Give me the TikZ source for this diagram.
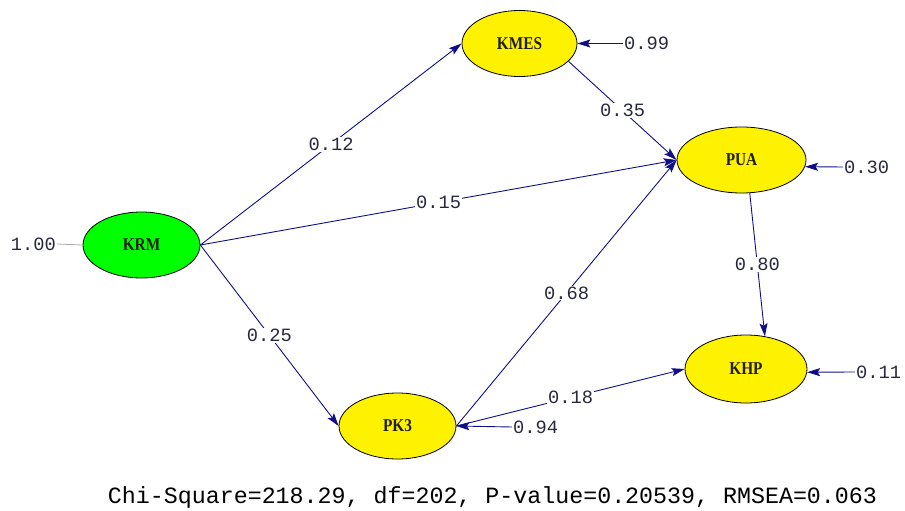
\documentclass[tikz,border=0pt]{standalone}
\usepackage{fontspec}
\usepackage{graphicx}
\setmainfont{Liberation Serif}
\setmonofont{Liberation Mono}
\usetikzlibrary{shapes.geometric,arrows.meta}
\definecolor{navy}{RGB}{15,15,135}
\definecolor{lblgray}{RGB}{40,40,60}
\newcommand{\lvname}[1]{\scalebox{0.85}[1]{#1}}
\tikzset{
  lat/.style={ellipse, draw=black, line width=0.8pt, inner sep=0pt,
    font=\bfseries\fontsize{18}{20}\selectfont, text={rgb,255:red,30;green,30;blue,20}},
  yel/.style={lat, fill=yellow},
  grn/.style={lat, fill=green},
  path/.style={draw=navy, line width=0.9pt, -{Stealth[length=13pt,width=8pt,inset=2.5pt]}},
  lbl/.style={fill=white, inner sep=1pt, text=lblgray, font=\ttfamily\fontsize{18.75}{20}\selectfont},
  errlbl/.style={inner sep=1pt, anchor=west, text=lblgray, font=\ttfamily\fontsize{18.75}{20}\selectfont}
}
\begin{document}
\begin{tikzpicture}[x=1pt,y=-1pt]
\useasboundingbox (0,0) rectangle (905,511);
% latent variables
\node[grn, minimum width=117pt, minimum height=66pt] (KRM) at (141.5,245) {\lvname{KRM}};
\node[yel, minimum width=115pt, minimum height=66pt] (KMES) at (519.5,43.5) {\lvname{KMES}};
\node[yel, minimum width=129pt, minimum height=66pt] (PUA) at (741.5,160) {\lvname{PUA}};
\node[yel, minimum width=117pt, minimum height=66pt] (PK3) at (397.5,426) {\lvname{PK3}};
\node[yel, minimum width=122pt, minimum height=68pt] (KHP) at (746,369) {\lvname{KHP}};
% structural paths
\draw[path] (KRM.east) -- node[lbl] (l1) {0.12} (KMES.west);
\draw[path] (KRM.east) -- node[lbl] (l2) {0.15} (PUA.west);
\draw[path] (KRM.east) -- node[lbl] (l3) {0.25} (PK3.west);
\draw[path] (KMES.-20) -- node[lbl] (l4) {0.35} (PUA.west);
\draw[path] (PK3.east) -- node[lbl] (l5) {0.68} (PUA.west);
\draw[path] (PUA.-76) -- node[lbl] (l6) {0.80} (KHP.60);
\draw[path] (PK3.east) -- node[lbl] (l7) {0.18} (KHP.west);
% error terms
\coordinate (eKMES) at (623,43.5);
\coordinate (ePUA) at (843,167);
\coordinate (ePK3) at (512,427);
\coordinate (eKHP) at (855,372);
\coordinate (eKRM) at (57,244);
\draw[path] (eKMES) -- (KMES.east);
\draw[path] (ePUA) -- (PUA.-6);
\draw[path] (ePK3) -- (PK3.east);
\draw[path] (eKHP) -- (KHP.-3);
\draw[draw={rgb,255:red,170;green,170;blue,170}, line width=0.8pt] (eKRM) -- (KRM.west);
\node[errlbl] (v1) at (eKMES) {0.99};
\node[errlbl] (v2) at (ePUA) {0.30};
\node[errlbl] (v3) at (ePK3) {0.94};
\node[errlbl] (v4) at (eKHP) {0.11};
\node[errlbl, anchor=east] (v5) at (eKRM) {1.00};
% fit statistics
\node[font=\ttfamily\fontsize{23.3}{25}\selectfont, text=black, inner sep=0pt] (fit) at (492.5,497)
  {Chi-Square=218.29, df=202, P-value=0.20539, RMSEA=0.063};
\end{tikzpicture}
\end{document}
